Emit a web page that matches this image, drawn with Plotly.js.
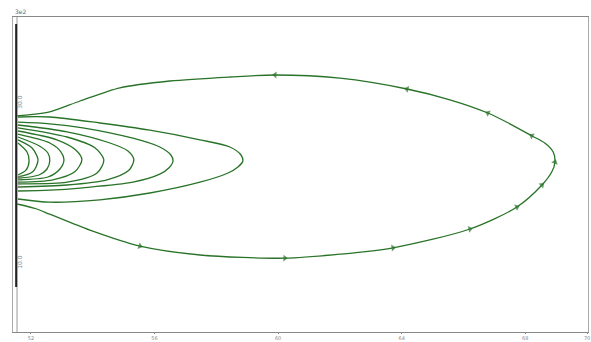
<!DOCTYPE html>
<html>
<head>
<meta charset="utf-8">
<script src="https://cdn.plot.ly/plotly-3.0.1.min.js"></script>
<style>html,body{margin:0;padding:0;background:#fff;}#chart{width:591px;height:342px;}</style>
</head>
<body>
<div id="chart"></div>
<script>
// Outer field line (with direction arrows), traversal order
const outerX = [51.55,52.19,52.61,53.91,55.53,57.47,60.22,62.00,63.72,66.21,67.73,68.54,68.86,68.96,68.90,68.63,68.21,67.50,66.79,65.56,64.17,62.00,59.90,58.44,56.50,54.88,53.59,52.61,51.55];
const outerY = [17.375,16.75,16.1,14.1,12.1,11.0,10.6,11.1,11.9,14.25,17.0,19.75,21.4,22.6,23.9,25.0,25.9,27.4,28.75,30.4,31.75,33.1,33.5,33.25,32.75,31.9,30.25,28.9,28.4];
const outerArrow = [0,0,0,0,1,0,1,0,1,1,1,1,0,1,0,0,1,0,1,0,1,0,1,0,0,0,0,0,0];

// Inner closed field lines (largest to smallest)
const innerX = [
  [51.58,52.61,54.23,55.85,57.47,58.44,58.80,58.86,58.70,58.38,57.47,55.85,54.23,52.61,51.58],
  [51.58,52.61,53.68,55.30,56.17,56.53,56.60,56.47,56.17,55.30,53.68,52.61,51.58],
  [51.58,53.17,54.56,55.14,55.33,55.17,54.46,53.17,51.58],
  [51.58,53.17,54.07,54.36,54.14,53.17,51.58],
  [51.58,52.84,53.46,53.65,53.42,52.71,51.58],
  [51.58,52.61,52.97,53.07,52.94,52.55,51.58],
  [51.58,52.29,52.55,52.61,52.52,52.26,51.58],
  [51.58,52.03,52.23,52.06,51.58],
  [51.58,51.87,51.94,51.84,51.58]
];
const innerY = [
  [28.25,28.25,27.5,26.6,25.4,24.5,23.5,22.75,22.0,21.25,20.1,18.75,17.9,17.6,18.0],
  [27.6,27.4,26.9,25.6,24.5,23.5,22.75,21.9,21.1,20.1,19.4,19.1,19.0],
  [27.25,26.4,25.0,24.0,22.9,21.6,20.4,19.75,19.5],
  [26.9,25.75,24.4,22.9,21.25,20.1,19.9],
  [26.5,25.4,24.1,22.9,21.4,20.4,20.1],
  [26.1,25.0,23.9,22.9,21.75,20.75,20.4],
  [25.75,24.6,23.75,22.75,21.75,21.0,20.6],
  [25.4,24.4,22.9,21.4,20.75],
  [25.0,23.9,22.75,21.6,21.0]
];

const xTicks = [52,56,60,64,68,70];
const yTicks = [10,20,30];

const green = 'rgb(40,115,40)';
const traces = [];
innerX.forEach((xs,i)=>{
  traces.push({x:xs,y:innerY[i],type:'scatter',mode:'lines',
    line:{color:green,width:1.3,shape:'spline',smoothing:0.8},hoverinfo:'skip'});
});
traces.push({x:outerX,y:outerY,type:'scatter',mode:'lines+markers',
  line:{color:green,width:1.3,shape:'spline',smoothing:0.8},
  marker:{symbol:'triangle-up',color:green,size:outerArrow.map(a=>a?6:0),angleref:'previous',line:{width:0}},
  hoverinfo:'skip'});

const layout = {
  width:591,height:342,
  margin:{l:13,r:3,t:17,b:10},
  paper_bgcolor:'#fff',plot_bgcolor:'#fff',
  showlegend:false,
  xaxis:{range:[51.42,70.03],tickvals:xTicks,ticktext:xTicks.map(String),
    showgrid:false,zeroline:false,showline:true,mirror:true,linecolor:'#888',linewidth:1,
    ticks:'outside',ticklen:1,tickcolor:'#888',tickfont:{size:5,color:'#888',family:'DejaVu Sans'}},
  yaxis:{range:[1.375,40.75],tickvals:yTicks,ticktext:yTicks.map(v=>v.toFixed(1)),
    showgrid:false,zeroline:false,showline:true,mirror:true,linecolor:'#aaa',linewidth:1,
    ticks:'',ticklabelposition:'inside',tickangle:-90,tickfont:{size:6,color:'#888',family:'DejaVu Sans'}},
  shapes:[
    {type:'line',xref:'paper',yref:'paper',x0:0.007,x1:0.007,y0:0,y1:1,line:{color:'#999',width:1}},
    {type:'line',xref:'paper',yref:'paper',x0:0.0055,x1:0.0055,y0:0.143,y1:0.978,line:{color:'#222',width:2}}
  ],
  annotations:[
    {xref:'paper',yref:'paper',x:0,y:1,xanchor:'left',yanchor:'bottom',text:'3e2',showarrow:false,
     font:{size:6,color:'#666',family:'DejaVu Sans'}}
  ]
};
Plotly.newPlot('chart',traces,layout,{staticPlot:true,displayModeBar:false});
</script>
</body>
</html>
